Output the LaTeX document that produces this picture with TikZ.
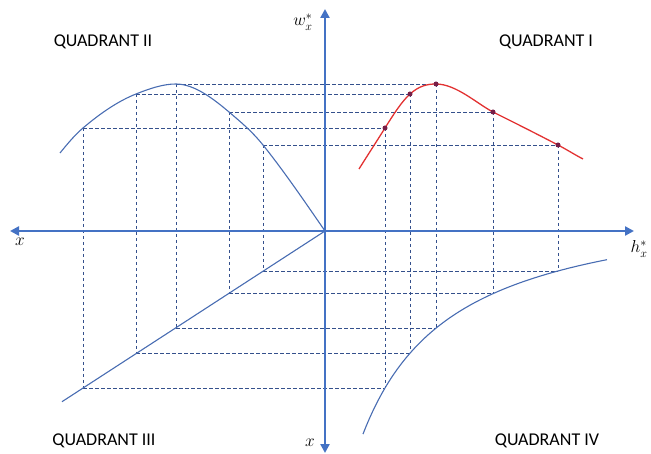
\documentclass[tikz,border=0pt]{standalone}
\usepackage{fontspec}
\newfontfamily\labfont{Carlito}
\usetikzlibrary{arrows.meta}
\definecolor{axisblue}{RGB}{68,114,196}
\definecolor{curveblue}{RGB}{72,108,178}
\definecolor{dashblue}{RGB}{52,80,140}
\definecolor{redcurve}{RGB}{226,50,50}
\definecolor{dotcol}{RGB}{120,30,70}
\tikzset{
  axisline/.style={draw=axisblue,line width=2.6pt,
    {Triangle[length=9pt,width=9pt]}-{Triangle[length=9pt,width=9pt]}},
  bluecurve/.style={draw=curveblue,line width=1.1pt},
  redline/.style={draw=redcurve,line width=1.3pt},
  guide/.style={draw=dashblue,line width=0.8pt,dash pattern=on 3.5pt off 2.5pt},
  quadlab/.style={font=\labfont\fontsize{18}{20}\selectfont,text=black},
  mathlab/.style={font=\fontsize{17}{19}\selectfont,text=black},
  pt/.style={circle,fill=dotcol,inner sep=0pt,minimum size=5pt}
}
\begin{document}
\begin{tikzpicture}[x=1pt,y=-1pt]
\useasboundingbox (0,0) rectangle (651,454);
% axes end points
\coordinate (o) at (325,231);
\coordinate (xl) at (10,231);
\coordinate (xr) at (634,231);
\coordinate (yt) at (325,9);
\coordinate (yb) at (325,453);
% Quadrant II curve points
\coordinate (p1) at (83,128);
\coordinate (p2) at (136,94);
\coordinate (p3) at (176,84);
\coordinate (p4) at (229,112);
\coordinate (p5) at (263,145);
% diagonal points (Quadrant III)
\coordinate (d1) at (83,388);
\coordinate (d2) at (136,353);
\coordinate (d3) at (176,328);
\coordinate (d4) at (229,293);
\coordinate (d5) at (263,271);
% Quadrant IV curve points
\coordinate (f1) at (385,388);
\coordinate (f2) at (410,353);
\coordinate (f3) at (436,328);
\coordinate (f4) at (493,293);
\coordinate (f5) at (558,271);
% Quadrant I (red) curve points
\coordinate (r1) at (385,128);
\coordinate (r2) at (410,94);
\coordinate (r3) at (436,84);
\coordinate (r4) at (493,112);
\coordinate (r5) at (558,145);
% guide lines
\foreach \i in {1,...,5}{
  \draw[guide] (p\i) -- (r\i);
  \draw[guide] (p\i) -- (d\i);
  \draw[guide] (d\i) -- (f\i);
  \draw[guide] (r\i) -- (f\i);
}
% Quadrant II curve
\coordinate (qa) at (60,153);
\draw[bluecurve] (qa)
  .. controls +(7.7,-9.5) and +(-7.7,6.5) .. (p1)
  .. controls +(17.7,-15) and +(-17.7,7) .. (p2)
  .. controls +(13.3,-5.3) and +(-13.3,0) .. (p3)
  .. controls +(18,0) and +(-16,-13.6) .. (p4)
  .. controls +(11.3,9.6) and +(-11.3,-14) .. (p5)
  .. controls +(20.7,25.8) and +(-20.7,-30) .. (o);
% Quadrant III diagonal
\coordinate (de) at (62,401.7);
\draw[bluecurve] (o) -- (de);
% Quadrant IV curve
\draw[bluecurve] plot[domain=363:607,samples=80] (\x,{193.2+224/(\x-270)*100});
% Quadrant I red curve
\coordinate (ra) at (359,169);
\coordinate (rb) at (583,159);
\draw[redline] (ra)
  .. controls +(9,-14.4) and +(-9,14.4) .. (r1)
  .. controls +(8.3,-13.3) and +(-8.3,7.5) .. (r2)
  .. controls +(9,-8) and +(-9,0) .. (r3)
  .. controls +(20,0) and +(-16,-8.3) .. (r4)
  .. controls +(21.7,10.8) and +(-21.7,-11.3) .. (r5)
  .. controls +(8.3,4.3) and +(-8.3,-4.3) .. (rb);
% axes
\draw[axisline] (xl) -- (xr);
\draw[axisline] (yb) -- (yt);
% dots
\foreach \i in {1,...,5}{ \node[pt] (dot\i) at (r\i) {}; }
% labels
\node[quadlab] (q2) at (103,42) {QUADRANT II};
\node[quadlab] (q1) at (546,42) {QUADRANT I};
\node[quadlab] (q3) at (104,441) {QUADRANT III};
\node[quadlab] (q4) at (547,441) {QUADRANT IV};
\node[mathlab] (wlab) at (303,22) {$w_x^*$};
\node[mathlab] (xlab1) at (20,242) {$x$};
\node[mathlab] (hlab) at (639,249) {$h_x^*$};
\node[mathlab] (xlab2) at (310,443) {$x$};
\end{tikzpicture}
\end{document}
